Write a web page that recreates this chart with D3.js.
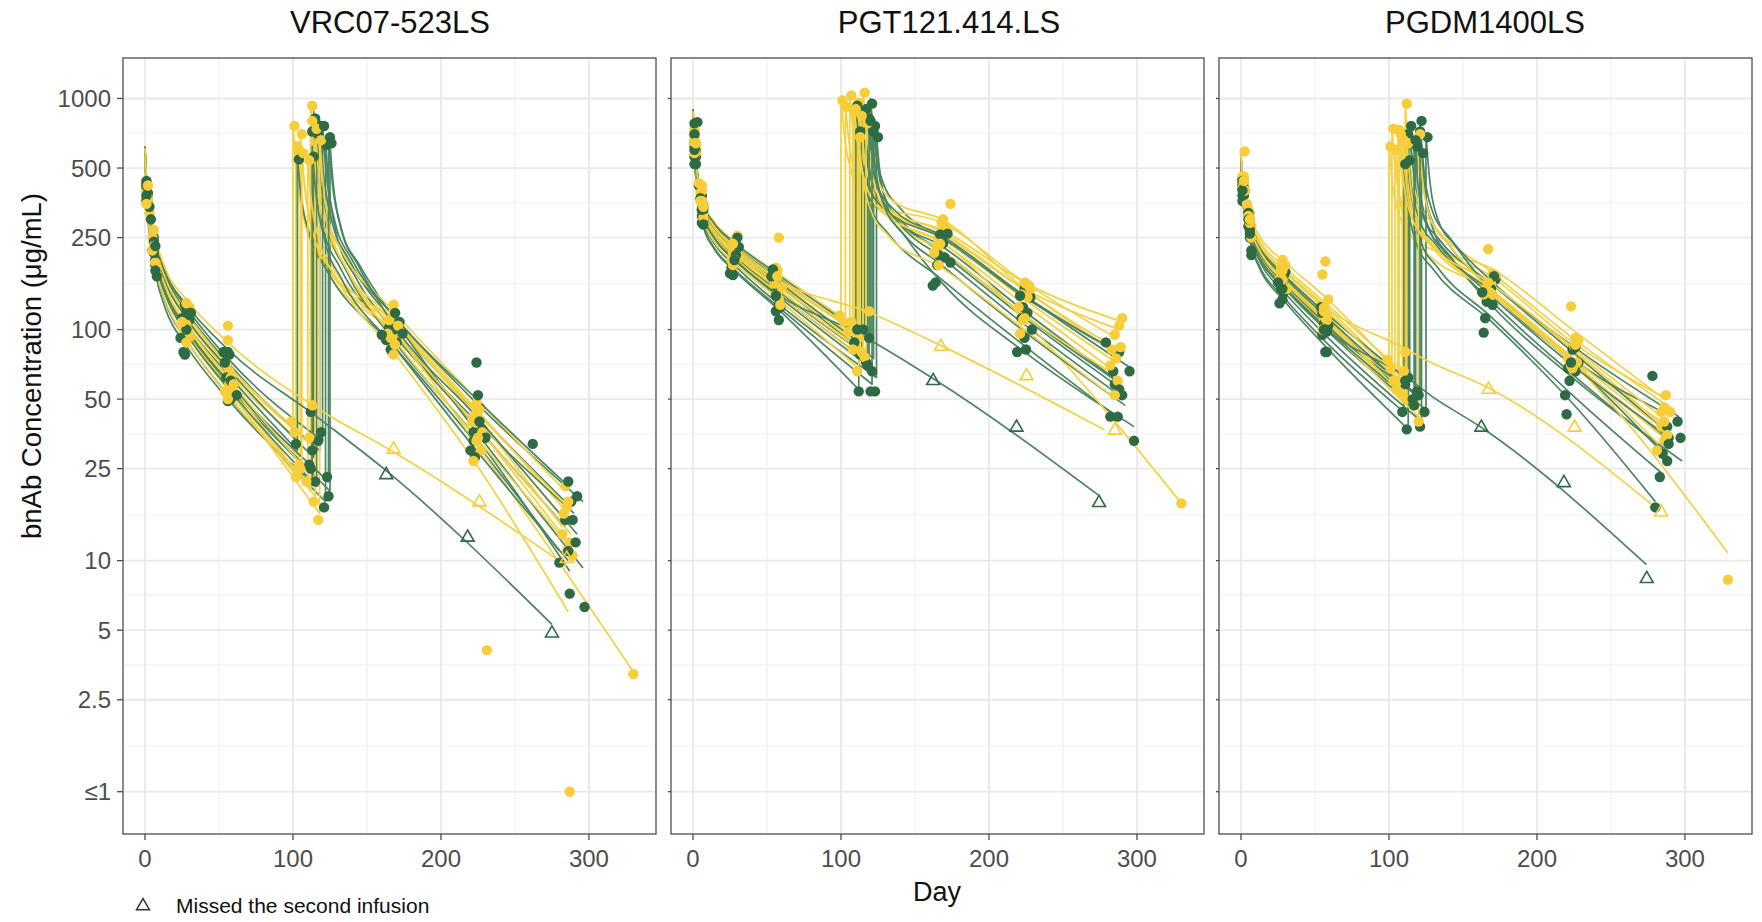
<!DOCTYPE html>
<html><head><meta charset="utf-8">
<script src="https://cdn.jsdelivr.net/npm/d3@7"></script>
<style>
body{margin:0;background:#fff}
svg{display:block;font-family:"Liberation Sans",Arial,Helvetica,sans-serif}
</style>
</head><body>
<svg id="chart" width="1762" height="922"></svg>
<script>
// ---------------- axis / label data ----------------
const panelTitles = ["VRC07-523LS", "PGT121.414.LS", "PGDM1400LS"];
const yTickValues = [1, 2.5, 5, 10, 25, 50, 100, 250, 500, 1000];
const yTickLabels = ["≤1", "2.5", "5", "10", "25", "50", "100", "250", "500", "1000"];
const yMinorValues = [1.58, 3.54, 7.07, 15.8, 35.4, 70.7, 158, 354, 707];
const xTickValues = [0, 100, 200, 300];
const xMinorValues = [50, 150, 250];
const xTitle = "Day";
const yTitle = "bnAb Concentration (μg/mL)";
const legendLabel = "Missed the second infusion";

// model-curve knot days
const firstDoseDays = [0, 1, 3, 7, 14, 28, 56];
const secondDoseOffsets = [0, 2, 8, 20];
const lateDays = [168, 224];

// ---------------- VRC07-523LS ----------------
const vrcGroup = ["G","Y","G","Y","G","Y","G","Y","G","Y","G","Y","G","Y","G","Y","G","Y","G","Y"];
const vrcFirst = [
 [620,440,330,235,170,120,72],[560,400,300,215,160,115,70],
 [600,400,290,200,145,100,58],[590,420,310,220,160,112,66],
 [580,380,270,185,130,90,52],[600,410,295,205,148,102,60],
 [610,430,315,225,160,112,68],[570,390,280,195,140,96,55],
 [590,410,300,205,148,102,60],[610,430,320,230,165,118,70],
 [600,420,305,215,150,106,64],[580,400,285,200,142,98,57],
 [570,370,260,175,122,85,50],[600,420,300,210,150,104,60],
 [620,450,340,245,175,125,75],[590,405,290,200,142,98,56],
 [600,415,295,205,145,100,60],[600,420,305,212,152,106,62],
 [585,395,285,195,140,96,56],[560,380,270,185,132,90,52]
];
// [t2, trough, peak, +2d, +8d, +20d, day168, day224, lastDay, lastConc]
const vrcSecond = [
 [118,30,800,520,300,200,108,44,288,17],[100,38,780,500,290,200,110,45,286,16],
 [112,24,760,500,280,185,95,38,284,14],[102,34,650,440,270,190,105,42,284,15],
 [122,18,650,430,250,170,98,40,290,16],[105,28,700,470,285,195,108,42,282,14],
 [114,28,880,560,320,215,115,48,296,18],[103,23,620,420,260,180,98,38,288,13],
 [125,20,640,440,270,190,112,36,296,9.3],[112,32,940,600,340,225,120,50,284,20],
 [103,30,560,400,260,180,85,32,280,11],[112,20,820,530,300,200,110,44,286,17],
 [116,21,740,480,275,180,90,34,287,9],[115,19,760,500,290,190,100,38,286,12],
 [120,33,780,510,300,200,115,50,286,21],[118,16,680,450,265,175,92,34,290,11],
 [124,22,700,470,280,190,105,42,292,13],[106,26,600,410,255,180,98,32,330,3.3],
 [113,22,620,420,250,165,85,30,286,10],[110,22,560,380,240,165,80,26,286,6]
];
const vrcObs = [
 [[1,430],[6,250],[27,128],[57,78],[117,33],[119,760],[167,100],[226,46],[262,32],[288,18]],
 [[1,390],[6,240],[28,118],[57,66],[99,40],[101,760],[168,120],[224,44],[285,17]],
 [[2,350],[7,190],[29,95],[55,62],[111,26],[113,720],[170,88],[222,36],[284,15]],
 [[2,380],[5,250],[27,112],[55,70],[101,36],[103,620],[170,100],[221,40],[283,16]],
 [[1,370],[5,220],[26,80],[58,50],[121,17],[123,630],[165,102],[228,37],[289,15]],
 [[1,400],[7,200],[29,98],[58,62],[104,26],[106,700],[165,110],[226,45],[282,13]],
 [[1,420],[6,240],[30,110],[54,72],[113,30],[115,820],[172,108],[224,72],[292,19]],
 [[1,370],[6,215],[26,100],[56,52],[102,23],[104,600],[167,92],[228,36],[287,12]],
 [[2,360],[7,200],[28,96],[59,56],[124,19],[126,640],[168,100],[230,34],[297,6.3]],
 [[1,420],[3,320],[30,125],[56,104],[111,34],[113,930],[168,128],[224,48],[284,21]],
 [[1,410],[4,300],[25,112],[60,58],[102,32],[104,545],[163,90],[220,30],[280,9.8]],
 [[2,360],[7,195],[27,96],[59,55],[111,22],[113,800],[171,104],[222,42],[286,18]],
 [[1,360],[8,170],[27,78],[56,49],[115,22],[117,700],[166,82],[222,33],[287,7.2]],
 [[1,410],[6,225],[28,105],[57,58],[114,18],[116,740],[164,96],[225,34],[285,11]],
 [[1,440],[3,340],[31,118],[53,80],[119,36],[121,760],[169,118],[225,52],[286,22]],
 [[1,395],[8,185],[31,94],[54,54],[117,15],[119,660],[169,86],[227,30],[289,10.5]],
 [[2,390],[6,215],[28,100],[58,60],[123,23],[125,680],[174,96],[226,40],[291,12]],
 [[2,370],[6,230],[25,108],[60,58],[105,25],[107,580],[166,92],[224,33],[330,3.23]],
 [[1,380],[7,180],[24,92],[62,52],[112,25],[114,560],[160,95],[223,28],[286,11]],
 [[1,350],[5,220],[28,88],[56,50],[109,22],[111,540],[168,78],[222,27],[231,4.1],[287,1]]
];
const vrcMissedGroup = ["G","Y"];
const vrcMissedFirst = [[600,440,330,240,175,128,82],[610,450,340,250,182,135,88]];
const vrcMissedTail = [
 [[116,42],[163,24.5],[275,5.3]],
 [[118,45],[168,29.5],[285,9.5]]
];
const vrcMissedObs = [
 [[1,420],[7,230],[28,120],[56,80],[112,44]],
 [[2,420],[6,270],[28,130],[56,90],[113,47]]
];
const vrcMissedTri = [
 [[163,23.5],[218,12.6],[275,4.85]],
 [[168,30.3],[226,17.9],[285,10.2]]
];

// ---------------- PGT121.414.LS ----------------
const pgtGroup = ["G","Y","G","Y","G","Y","G","Y","G","Y","G","Y","G","Y","G","Y","G","Y","G","Y"];
const pgtFirst = [
 [900,640,470,345,285,232,170],[870,620,460,340,282,230,168],
 [860,600,430,310,250,200,142],[880,630,465,342,282,228,166],
 [880,620,450,330,270,218,158],[860,610,445,328,268,216,156],
 [840,560,390,280,225,180,125],[900,650,480,355,295,240,178],
 [900,650,480,350,290,238,175],[850,600,435,318,258,208,150],
 [870,610,440,320,262,210,150],[870,615,450,332,272,220,160],
 [850,580,410,295,238,190,132],[880,625,458,336,275,222,162],
 [890,630,460,338,278,226,164],[860,605,440,322,262,212,152],
 [860,600,430,315,255,205,146],[850,600,432,315,255,205,146],
 [830,560,395,285,228,182,128],[840,580,415,300,242,195,138]
];
const pgtSecond = [
 [120,88,1000,700,440,335,250,140,288,78],[100,110,1000,720,460,350,290,160,286,92],
 [118,70,850,600,390,300,220,115,286,60],[103,105,950,680,440,340,258,150,288,100],
 [122,75,780,560,370,290,215,112,290,55],[106,95,1050,740,470,355,265,148,284,80],
 [112,55,760,540,340,260,165,85,282,44],[108,105,900,650,430,335,270,160,290,108],
 [116,95,920,660,430,330,255,140,296,68],[111,85,980,700,450,340,250,135,286,72],
 [114,80,880,620,400,310,230,120,284,62],[113,90,860,620,410,315,238,128,282,68],
 [124,62,700,500,330,250,160,80,298,38],[115,82,1080,760,480,360,300,150,290,80],
 [110,90,950,680,430,330,250,138,280,85],[117,78,800,580,380,295,220,115,288,62],
 [119,72,820,580,380,290,205,105,288,52],[109,80,920,660,420,320,240,110,330,17.7],
 [121,58,740,520,345,265,190,98,292,47],[112,68,700,500,330,255,185,100,286,50]
];
const pgtObs = [
 [[3,790],[6,380],[28,240],[56,175],[119,92],[121,950],[168,245],[224,150],[288,80]],
 [[1,720],[6,400],[28,240],[57,180],[99,115],[101,980],[168,290],[224,160],[285,95]],
 [[2,560],[7,300],[27,205],[57,140],[117,72],[119,820],[166,210],[222,112],[285,58]],
 [[2,620],[7,350],[27,230],[55,170],[102,108],[104,920],[166,250],[227,155],[288,104]],
 [[1,650],[4,420],[29,220],[55,160],[121,66],[123,760],[170,205],[226,118],[290,52]],
 [[1,660],[4,430],[29,215],[58,250],[105,98],[107,1030],[170,280],[222,142],[283,82]],
 [[1,520],[6,290],[25,175],[58,110],[112,54],[113,720],[164,160],[219,80],[282,42]],
 [[1,740],[6,420],[30,255],[56,185],[107,108],[109,880],[172,270],[225,158],[290,112]],
 [[1,780],[7,340],[30,250],[54,182],[115,100],[117,900],[172,260],[228,138],[295,66]],
 [[2,600],[5,390],[26,200],[57,145],[110,88],[112,960],[174,350],[226,138],[286,75]],
 [[2,590],[5,370],[28,212],[57,150],[113,78],[115,860],[169,236],[223,125],[284,66]],
 [[1,680],[7,320],[28,222],[60,152],[112,92],[114,840],[165,232],[220,125],[282,70]],
 [[1,620],[6,310],[26,185],[59,125],[123,54],[125,680],[162,155],[225,82],[298,33]],
 [[1,700],[6,360],[27,215],[55,158],[114,80],[116,1060],[169,300],[228,150],[289,84]],
 [[1,700],[7,330],[31,228],[53,170],[109,88],[111,930],[167,258],[221,140],[279,88]],
 [[2,580],[6,340],[31,205],[58,135],[116,76],[118,780],[163,215],[224,112],[287,60]],
 [[2,520],[6,330],[29,210],[56,120],[118,70],[120,800],[174,195],[229,100],[288,55]],
 [[1,640],[7,305],[28,200],[56,140],[108,82],[110,900],[167,235],[223,110],[330,17.7]],
 [[1,560],[7,285],[27,172],[58,128],[120,54],[122,720],[165,190],[224,92],[287,42]],
 [[1,580],[5,360],[27,190],[59,128],[111,66],[113,680],[166,190],[221,96],[285,52]]
];
const pgtMissedGroup = ["G","Y"];
const pgtMissedFirst = [[870,600,430,312,252,202,144],[880,625,460,340,280,226,166]];
const pgtMissedTail = [
 [[112,96],[163,61],[274,19.2]],
 [[120,118],[168,85],[278,36.8]]
];
const pgtMissedObs = [
 [[1,600],[6,330],[28,200],[56,140],[111,100]],
 [[2,640],[7,340],[27,235],[57,170],[119,120]]
];
const pgtMissedTri = [
 [[162.3,60],[218.6,37.7],[274.4,17.8]],
 [[167.5,84.3],[225.4,63],[285,36.6]]
];

// ---------------- PGDM1400LS ----------------
const pgdmGroup = ["G","Y","G","Y","G","Y","G","Y","G","Y","G","Y","G","Y","G","Y","G","Y","G","Y"];
const pgdmFirst = [
 [560,420,340,268,212,168,112],[570,440,370,300,245,200,140],
 [540,400,318,250,196,155,102],[560,425,350,282,228,184,128],
 [550,400,315,245,190,148,96],[560,420,342,272,218,174,118],
 [570,430,350,280,222,176,120],[555,415,335,265,212,168,113],
 [530,380,295,228,176,136,86],[570,435,360,290,235,190,132],
 [560,415,335,262,206,162,108],[550,410,330,260,207,164,110],
 [550,410,328,258,204,160,106],[560,420,340,268,214,170,115],
 [540,390,300,232,180,140,90],[545,405,322,252,200,158,105],
 [565,425,345,275,218,172,116],[560,418,338,266,212,168,113],
 [550,405,322,252,198,156,104],[600,450,360,285,228,182,124]
];
const pgdmSecond = [
 [120,52,740,500,310,235,150,72,290,33],[100,72,640,450,300,240,185,100,286,50],
 [118,46,650,450,285,215,135,64,286,30],[102,66,760,520,330,255,172,88,288,50],
 [122,40,600,420,270,205,130,62,298,27],[104,58,620,430,280,220,150,76,284,40],
 [114,60,780,520,320,245,160,80,288,36],[106,55,750,510,320,248,160,82,286,38],
 [113,37,560,390,245,185,115,52,284,24],[111,64,950,620,370,280,180,92,290,46],
 [125,45,700,480,300,230,150,74,282,45],[110,52,700,480,300,232,150,75,288,36],
 [112,56,720,490,305,232,148,72,288,28],[112,50,660,460,290,225,145,72,286,34],
 [110,44,540,380,240,182,110,48,280,18],[120,42,720,490,305,235,150,74,282,32],
 [121,50,820,540,330,250,165,85,296,42],[109,52,680,470,295,228,146,72,329,10.8],
 [117,48,680,460,290,222,142,70,290,34],[107,60,720,490,310,240,160,84,284,42]
];
const pgdmObs = [
 [[1,430],[7,250],[28,165],[56,110],[119,54],[121,720],[168,148],[224,70],[289,34]],
 [[2,460],[6,320],[28,200],[57,197],[99,74],[101,620],[167,223],[223,126],[286,46]],
 [[2,380],[6,250],[27,150],[58,98],[117,47],[119,620],[166,132],[222,60],[285,29]],
 [[1,450],[7,280],[27,188],[55,173],[101,68],[103,740],[170,175],[226,92],[287,52]],
 [[1,410],[5,280],[29,145],[55,95],[121,38],[123,580],[170,128],[226,66],[297,34]],
 [[2,430],[5,330],[29,170],[58,115],[103,60],[105,600],[165,150],[221,75],[284,38]],
 [[1,450],[6,300],[30,178],[54,125],[113,62],[115,760],[172,165],[224,82],[288,38]],
 [[1,430],[6,290],[26,165],[56,110],[105,55],[107,730],[169,158],[225,85],[286,40]],
 [[1,360],[7,210],[26,130],[57,80],[112,37],[114,540],[165,112],[219,52],[283,23]],
 [[1,460],[4,350],[30,190],[59,135],[110,66],[112,950],[172,172],[228,90],[290,44]],
 [[2,400],[5,320],[28,160],[59,104],[124,44],[126,680],[169,150],[228,72],[278,63]],
 [[2,420],[7,250],[28,162],[56,108],[109,52],[111,680],[166,148],[222,70],[288,35]],
 [[1,420],[6,270],[27,158],[56,106],[111,58],[113,700],[167,144],[221,68],[288,27]],
 [[1,440],[6,290],[27,168],[57,112],[111,50],[113,640],[164,142],[224,68],[286,33]],
 [[1,380],[7,220],[28,135],[58,80],[109,44],[111,520],[164,97],[220,43],[280,17]],
 [[1,410],[5,310],[31,150],[55,100],[120,40],[121,700],[168,145],[227,72],[281,30]],
 [[1,440],[6,290],[29,172],[55,118],[120,52],[122,800],[171,170],[226,84],[295,40]],
 [[2,430],[6,290],[28,165],[58,110],[108,53],[110,660],[170,142],[223,70],[329,8.27]],
 [[2,410],[5,300],[25,160],[57,100],[116,50],[118,660],[163,145],[223,72],[289,32]],
 [[2.5,590],[3,400],[27,180],[56,120],[106,60],[108,700],[167,160],[226,86],[284,44]]
];
const pgdmMissedGroup = ["G","Y"];
const pgdmMissedFirst = [[550,405,320,250,196,154,102],[565,430,350,280,226,182,126]];
const pgdmMissedTail = [
 [[112,62],[129,51.4],[163,37.5],[274,9.6]],
 [[112,82],[124.6,74],[167,56],[280,17]]
];
const pgdmMissedObs = [
 [[1,400],[6,260],[28,150],[56,100],[111,60]],
 [[2,440],[6,300],[28,180],[56,124],[111,80]]
];
const pgdmMissedTri = [
 [[162.4,37.7],[218.2,21.7],[274.2,8.34]],
 [[167.3,55],[225.4,37.7],[283.9,16.2]]
];

// ---------------- drawing ----------------
const pointColor = {G: "#2e6b45", Y: "#f7cd3a"};
const lineColor = {G: "#4b8561", Y: "#f4d142"};

const panelsData = [
  {group: vrcGroup, first: vrcFirst, second: vrcSecond, obs: vrcObs,
   mGroup: vrcMissedGroup, mFirst: vrcMissedFirst, mTail: vrcMissedTail, mObs: vrcMissedObs, mTri: vrcMissedTri},
  {group: pgtGroup, first: pgtFirst, second: pgtSecond, obs: pgtObs,
   mGroup: pgtMissedGroup, mFirst: pgtMissedFirst, mTail: pgtMissedTail, mObs: pgtMissedObs, mTri: pgtMissedTri},
  {group: pgdmGroup, first: pgdmFirst, second: pgdmSecond, obs: pgdmObs,
   mGroup: pgdmMissedGroup, mFirst: pgdmMissedFirst, mTail: pgdmMissedTail, mObs: pgdmMissedObs, mTri: pgdmMissedTri}
];

const svg = d3.select("#chart");
const panelLefts = [123, 671, 1219];
const panelW = 533, panelTop = 58, panelBottom = 834;

const x = d3.scaleLinear().domain([-14.86, 345.3]).range([0, panelW]);
const y = d3.scaleLog().domain([0.656, 1497]).range([panelBottom, panelTop]);

const lineGen = d3.line().x(d => x(d[0])).y(d => y(d[1])).curve(d3.curveMonotoneX);
const triSym = d3.symbol().type(d3.symbolTriangle).size(72);

panelsData.forEach((pd, pi) => {
  const g = svg.append("g").attr("transform", `translate(${panelLefts[pi]},0)`);

  // grid
  g.selectAll(".ymin").data(yMinorValues).join("line")
    .attr("x1", 0).attr("x2", panelW).attr("y1", d => y(d)).attr("y2", d => y(d))
    .attr("stroke", "#f2f2f2").attr("stroke-width", 1.1);
  g.selectAll(".xmin").data(xMinorValues).join("line")
    .attr("x1", d => x(d)).attr("x2", d => x(d)).attr("y1", panelTop).attr("y2", panelBottom)
    .attr("stroke", "#f0f0f0").attr("stroke-width", 1.1);
  g.selectAll(".ymaj").data(yTickValues).join("line")
    .attr("x1", 0).attr("x2", panelW).attr("y1", d => y(d)).attr("y2", d => y(d))
    .attr("stroke", "#e9e9e9").attr("stroke-width", 1.8);
  g.selectAll(".xmaj").data(xTickValues).join("line")
    .attr("x1", d => x(d)).attr("x2", d => x(d)).attr("y1", panelTop).attr("y2", panelBottom)
    .attr("stroke", "#e9e9e9").attr("stroke-width", 1.8);

  // lines
  const lines = g.append("g").attr("fill", "none").attr("stroke-width", 1.7)
    .attr("stroke-linejoin", "round");
  pd.first.forEach((f, i) => {
    const s = pd.second[i];
    const A = firstDoseDays.map((d, k) => [d, f[k]]).concat([[s[0], s[1]]]);
    const B = secondDoseOffsets.map((o, k) => [s[0] + o, s[2 + k]])
      .concat(lateDays.map((d, k) => [d, s[6 + k]]))
      .concat([[s[8], s[9]]]);
    const path = lineGen(A) + "L" + lineGen(B).slice(1);
    lines.append("path").attr("d", path).attr("stroke", lineColor[pd.group[i]]);
  });
  pd.mFirst.forEach((f, i) => {
    const K = firstDoseDays.map((d, k) => [d, f[k]]).concat(pd.mTail[i]);
    lines.append("path").attr("d", lineGen(K)).attr("stroke", lineColor[pd.mGroup[i]]);
  });

  // points
  const pts = g.append("g");
  const allObs = [];
  pd.obs.forEach((o, i) => o.forEach(p => allObs.push({d: p[0], c: p[1], grp: pd.group[i]})));
  pd.mObs.forEach((o, i) => o.forEach(p => allObs.push({d: p[0], c: p[1], grp: pd.mGroup[i]})));
  pts.selectAll("circle").data(allObs).join("circle")
    .attr("cx", d => x(d.d)).attr("cy", d => y(d.c)).attr("r", 5.2)
    .attr("fill", d => pointColor[d.grp]);
  const tris = [];
  pd.mTri.forEach((o, i) => o.forEach(p => tris.push({d: p[0], c: p[1], grp: pd.mGroup[i]})));
  pts.selectAll("path").data(tris).join("path")
    .attr("d", triSym)
    .attr("transform", d => `translate(${x(d.d)},${y(d.c)})`)
    .attr("fill", "none").attr("stroke", d => pointColor[d.grp]).attr("stroke-width", 1.6);

  // border
  g.append("rect").attr("x", 0).attr("y", panelTop).attr("width", panelW)
    .attr("height", panelBottom - panelTop).attr("fill", "none")
    .attr("stroke", "#4d4d4d").attr("stroke-width", 1.3);

  // x axis ticks and labels
  g.selectAll(".xt").data(xTickValues).join("line")
    .attr("x1", d => x(d)).attr("x2", d => x(d)).attr("y1", panelBottom).attr("y2", panelBottom + 6)
    .attr("stroke", "#4d4d4d").attr("stroke-width", 1.3);
  g.selectAll(".xl").data(xTickValues).join("text")
    .attr("x", d => x(d)).attr("y", 867).attr("text-anchor", "middle")
    .attr("font-size", 24).attr("fill", "#4d4d4d").text(d => d);

  // y ticks
  const tlen = pi === 0 ? 6 : 3;
  g.selectAll(".yt").data(yTickValues).join("line")
    .attr("x1", -tlen).attr("x2", 0).attr("y1", d => y(d)).attr("y2", d => y(d))
    .attr("stroke", "#4d4d4d").attr("stroke-width", 1.3);
  if (pi === 0) {
    g.selectAll(".yl").data(yTickValues).join("text")
      .attr("x", -12).attr("y", d => y(d)).attr("dy", "0.36em")
      .attr("text-anchor", "end").attr("font-size", 24).attr("fill", "#4d4d4d")
      .text((d, k) => yTickLabels[k]);
  }

  // title
  svg.append("text").attr("x", [390, 949, 1485][pi]).attr("y", 33)
    .attr("text-anchor", "middle").attr("font-size", 31).attr("fill", "#111")
    .text(panelTitles[pi]);
});

// axis titles
svg.append("text").attr("x", 937).attr("y", 901).attr("text-anchor", "middle")
  .attr("font-size", 27).attr("fill", "#111").text(xTitle);
svg.append("text").attr("transform", "translate(41,366) rotate(-90)")
  .attr("text-anchor", "middle").attr("font-size", 27.5).attr("fill", "#111").text(yTitle);

// legend
svg.append("path").attr("d", triSym).attr("transform", "translate(143,906)")
  .attr("fill", "none").attr("stroke", "#333").attr("stroke-width", 1.5);
svg.append("text").attr("x", 176).attr("y", 913).attr("font-size", 21).attr("fill", "#111")
  .text(legendLabel);
</script>
</body></html>
